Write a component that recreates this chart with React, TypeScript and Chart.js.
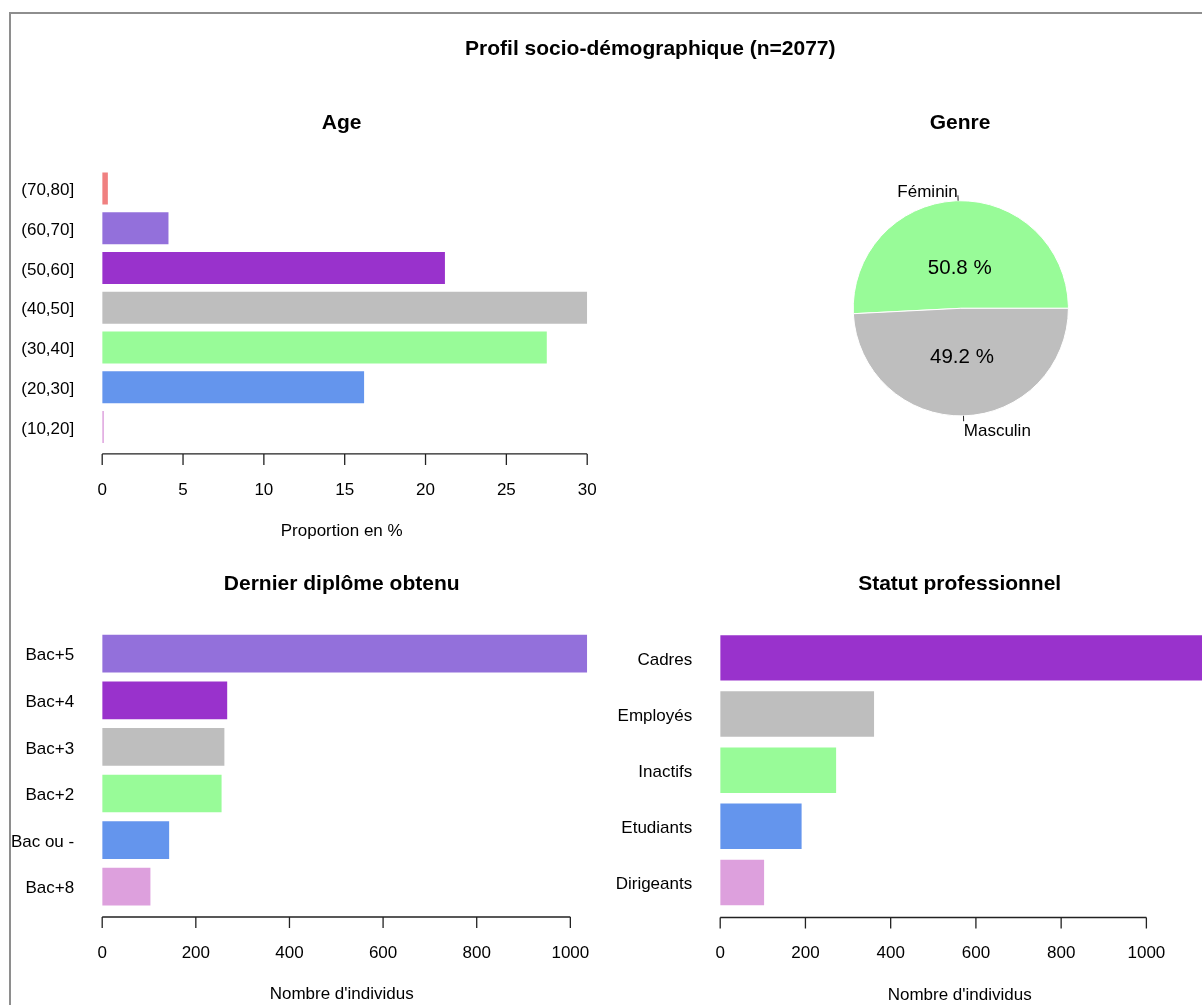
import React, { useEffect, useRef } from 'react';
import { Chart, registerables } from 'chart.js';

Chart.register(...registerables);

const FONT = '"Liberation Sans", Arial, Helvetica, sans-serif';

// ---------- data ----------
const MAIN_TITLE = 'Profil socio-démographique (n=2077)';

const AGE_TITLE = 'Age';
const AGE_LABELS = ['(70,80]', '(60,70]', '(50,60]', '(40,50]', '(30,40]', '(20,30]', '(10,20]'];
const AGE_VALUES = [0.35, 4.1, 21.2, 30.0, 27.5, 16.2, 0.1];
const AGE_TICKS = [0, 5, 10, 15, 20, 25, 30];
const AGE_XLAB = 'Proportion en %';

const GENRE_TITLE = 'Genre';
const GENRE_LABELS = ['Féminin', 'Masculin'];
const GENRE_VALUES = [50.8, 49.2];

const DIPLOME_TITLE = 'Dernier diplôme obtenu';
const DIPLOME_LABELS = ['Bac+5', 'Bac+4', 'Bac+3', 'Bac+2', 'Bac ou -', 'Bac+8'];
const DIPLOME_VALUES = [1036, 267, 261, 255, 143, 103];

const STATUT_TITLE = 'Statut professionnel';
const STATUT_LABELS = ['Cadres', 'Employés', 'Inactifs', 'Etudiants', 'Dirigeants'];
const STATUT_VALUES = [1138, 361, 272, 191, 103];

const COUNT_TICKS = [0, 200, 400, 600, 800, 1000];
const COUNT_XLAB = "Nombre d'individus";

// ---------- styles ----------
const LIGHTCORAL = '#F08080';
const MEDIUMPURPLE = '#9370DB';
const DARKORCHID = '#9932CC';
const GRAY = '#BEBEBE';
const PALEGREEN = '#98FB98';
const CORNFLOWER = '#6495ED';
const PLUM = '#DDA0DD';

const AGE_COLORS = [LIGHTCORAL, MEDIUMPURPLE, DARKORCHID, GRAY, PALEGREEN, CORNFLOWER, PLUM];
const GENRE_COLORS = [PALEGREEN, GRAY];
const DIPLOME_COLORS = [MEDIUMPURPLE, DARKORCHID, GRAY, PALEGREEN, CORNFLOWER, PLUM];
const STATUT_COLORS = [DARKORCHID, GRAY, PALEGREEN, CORNFLOWER, PLUM];

const PAGE_W = 1202;
const PAGE_H = 1005;
const TEXT_DY = 2;

// ---------- plugin drawing R-like decorations ----------
const rPlugin = {
  id: 'rDecor',
  afterDraw(chart: any, _args: any, opts: any) {
    const ctx = chart.ctx;
    const a = chart.chartArea;
    ctx.save();
    ctx.fillStyle = '#000';
    ctx.textBaseline = 'middle';

    if (opts.mainTitle) {
      ctx.font = `bold 21px ${FONT}`;
      ctx.textAlign = 'center';
      ctx.fillText(opts.mainTitle.text, opts.mainTitle.x, opts.mainTitle.y + TEXT_DY);
    }

    const cx = (a.left + a.right) / 2 + (opts.dx || 0);

    if (opts.title) {
      ctx.font = `bold 21px ${FONT}`;
      ctx.textAlign = 'center';
      ctx.fillText(opts.title, cx, a.top + opts.titleDy + TEXT_DY);
    }

    if (opts.axis) {
      const xs = chart.scales.x;
      const { ticks, gap, tickLen, labelDy, xlab, xlabDy } = opts.axis;
      const y0 = a.bottom + gap;
      ctx.strokeStyle = '#222';
      ctx.lineWidth = 1.3;
      ctx.beginPath();
      ctx.moveTo(xs.getPixelForValue(ticks[0]), y0);
      ctx.lineTo(xs.getPixelForValue(ticks[ticks.length - 1]), y0);
      ticks.forEach((v: number) => {
        const px = xs.getPixelForValue(v);
        ctx.moveTo(px, y0);
        ctx.lineTo(px, y0 + tickLen);
      });
      ctx.stroke();
      ctx.font = `17px ${FONT}`;
      ctx.textAlign = 'center';
      ticks.forEach((v: number) => {
        ctx.fillText(String(v), xs.getPixelForValue(v), a.bottom + labelDy + TEXT_DY);
      });
      ctx.fillText(xlab, cx, a.bottom + xlabDy + TEXT_DY);
    }

    if (opts.pie) {
      const meta = chart.getDatasetMeta(0);
      const data = chart.data.datasets[0].data as number[];
      const labels = chart.data.labels as string[];
      meta.data.forEach((arc: any, i: number) => {
        const mid = (arc.startAngle + arc.endAngle) / 2;
        const r = arc.outerRadius;
        const cos = Math.cos(mid);
        const sin = Math.sin(mid);
        // percentage inside
        const k = opts.pie.inner[i];
        ctx.font = `20.5px ${FONT}`;
        ctx.textAlign = 'center';
        ctx.fillStyle = '#000';
        ctx.fillText(`${data[i].toFixed(1)} %`, arc.x + cos * r * k, arc.y + sin * r * k + TEXT_DY);
        // tick line
        ctx.strokeStyle = '#222';
        ctx.lineWidth = 1;
        ctx.beginPath();
        ctx.moveTo(arc.x + cos * r, arc.y + sin * r);
        ctx.lineTo(arc.x + cos * r * 1.05, arc.y + sin * r * 1.05);
        ctx.stroke();
        // outer label
        ctx.font = `17px ${FONT}`;
        ctx.textAlign = cos < 0 ? 'right' : 'left';
        const extra = sin > 0 ? 3 : 0;
        ctx.fillText(labels[i], arc.x + cos * r * 1.1, arc.y + sin * r * 1.1 + TEXT_DY + extra);
      });
    }
    ctx.restore();
  },
};

function barConfig(
  labels: string[],
  values: number[],
  colors: string[],
  ticks: number[],
  xlab: string,
  title: string,
  box: { padLeft: number; yWidth: number; top: number; bottom: number; right: number; canvasW: number }
) {
  const maxV = Math.max(...values);
  return {
    type: 'bar',
    data: {
      labels,
      datasets: [
        {
          data: values,
          backgroundColor: colors,
          borderWidth: 0,
          barPercentage: 0.81,
          categoryPercentage: 1,
        },
      ],
    },
    options: {
      indexAxis: 'y',
      responsive: false,
      animation: false,
      events: [],
      layout: {
        padding: {
          left: box.padLeft,
          top: box.top,
          right: box.canvasW - box.right,
          bottom: PAGE_H - box.bottom,
        },
      },
      plugins: {
        legend: { display: false },
        tooltip: { enabled: false },
        title: { display: false },
        rDecor: {
          title,
          titleDy: -47.7,
          dx: -3,
          axis: { ticks, gap: 7, tickLen: 11, labelDy: 41, xlab, xlabDy: 82.5 },
        },
      },
      scales: {
        x: { type: 'linear', display: false, min: 0, max: maxV, bounds: 'data' },
        y: {
          type: 'category',
          grid: { display: false, drawTicks: false },
          border: { display: false },
          ticks: {
            padding: 28,
            color: '#000',
            autoSkip: false,
            labelOffset: 2,
            font: { family: FONT, size: 17 },
          },
          afterFit: (s: any) => {
            s.width = box.yWidth;
          },
        },
      },
    },
    plugins: [rPlugin],
  };
}

function pieConfig() {
  const total = GENRE_VALUES.reduce((s, v) => s + v, 0);
  const rotation = 90 - (GENRE_VALUES[0] / total) * 360;
  const left = 853.2;
  const right = 1068.4;
  const top = 200.7;
  const bottom = 415.9;
  return {
    type: 'pie',
    data: {
      labels: GENRE_LABELS,
      datasets: [
        {
          data: GENRE_VALUES,
          backgroundColor: GENRE_COLORS,
          borderColor: '#ffffff',
          borderWidth: 1,
          hoverOffset: 0,
          offset: 0,
        },
      ],
    },
    options: {
      responsive: false,
      animation: false,
      events: [],
      rotation,
      radius: 107.6,
      layout: { padding: { left, top, right: PAGE_W - right, bottom: PAGE_H - bottom } },
      plugins: {
        legend: { display: false },
        tooltip: { enabled: false },
        title: { display: false },
        rDecor: {
          mainTitle: { text: MAIN_TITLE, x: 650.3, y: 47.2 },
          title: GENRE_TITLE,
          titleDy: 120.9 - top,
          dx: -0.8,
          pie: { inner: [0.386, 0.434] },
        },
      },
    },
    plugins: [rPlugin],
  };
}

function ChartCanvas({ makeConfig, width }: { makeConfig: () => any; width: number }) {
  const ref = useRef<HTMLCanvasElement>(null);
  useEffect(() => {
    const chart = new Chart(ref.current as HTMLCanvasElement, makeConfig());
    return () => chart.destroy();
  }, []);
  return (
    <canvas
      ref={ref}
      width={width}
      height={PAGE_H}
      style={{ position: 'absolute', left: 0, top: 0, width, height: PAGE_H }}
    />
  );
}

export default function App() {
  return (
    <div
      style={{
        position: 'absolute',
        left: 0,
        top: 0,
        width: PAGE_W,
        height: PAGE_H,
        overflow: 'hidden',
        background: '#ffffff',
      }}
    >
      <div
        style={{
          position: 'absolute',
          left: 9,
          top: 12,
          width: PAGE_W,
          height: PAGE_H,
          borderTop: '2px solid #8e8e8e',
          borderLeft: '2px solid #8e8e8e',
        }}
      />
      <ChartCanvas
        width={PAGE_W}
        makeConfig={() =>
          barConfig(AGE_LABELS, AGE_VALUES, AGE_COLORS, AGE_TICKS, AGE_XLAB, AGE_TITLE, {
            padLeft: 0,
            yWidth: 102.2,
            top: 168.6,
            bottom: 446.9,
            right: 587.2,
            canvasW: PAGE_W,
          })
        }
      />
      <ChartCanvas width={PAGE_W} makeConfig={pieConfig} />
      <ChartCanvas
        width={PAGE_W}
        makeConfig={() =>
          barConfig(DIPLOME_LABELS, DIPLOME_VALUES, DIPLOME_COLORS, COUNT_TICKS, COUNT_XLAB, DIPLOME_TITLE, {
            padLeft: 0,
            yWidth: 102.2,
            top: 630.4,
            bottom: 910.0,
            right: 587.2,
            canvasW: PAGE_W,
          })
        }
      />
      <ChartCanvas
        width={1220}
        makeConfig={() =>
          barConfig(STATUT_LABELS, STATUT_VALUES, STATUT_COLORS, COUNT_TICKS, COUNT_XLAB, STATUT_TITLE, {
            padLeft: 600,
            yWidth: 120.2,
            top: 629.8,
            bottom: 910.5,
            right: 1205.2,
            canvasW: 1220,
          })
        }
      />
    </div>
  );
}
